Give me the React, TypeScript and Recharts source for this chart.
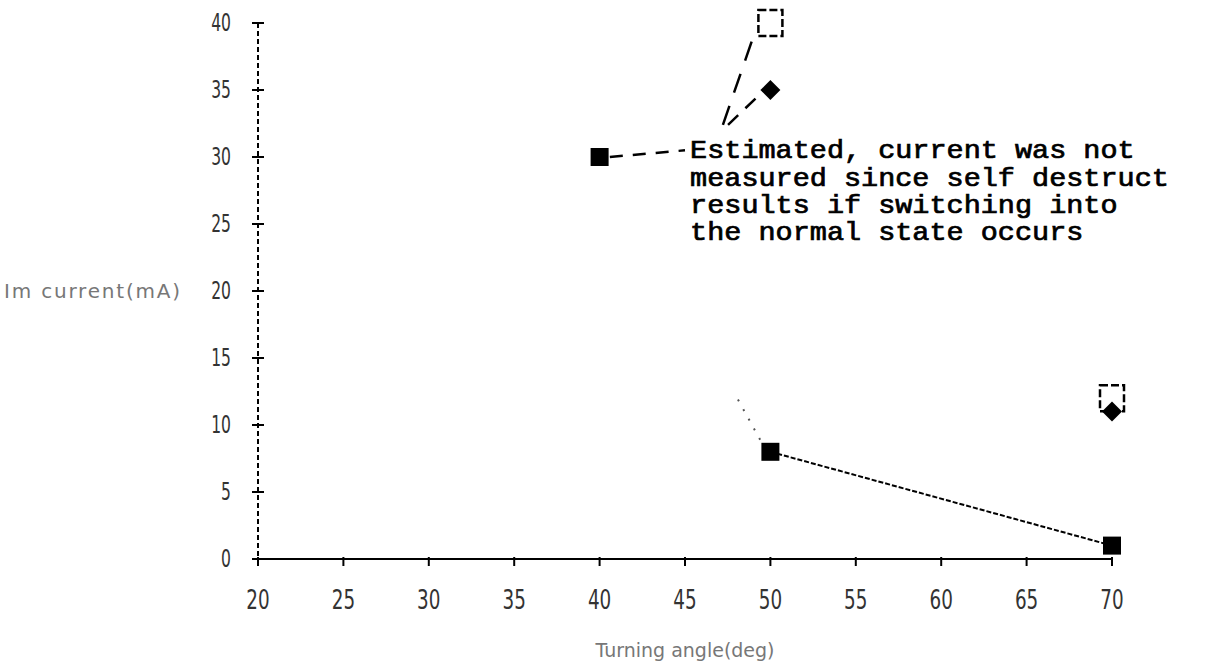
import React from 'react';
import { ScatterChart, Scatter, XAxis, YAxis, ReferenceLine, ReferenceDot } from 'recharts';

// ---- data ----
const xTicks = [20, 25, 30, 35, 40, 45, 50, 55, 60, 65, 70];
const yTicks = [0, 5, 10, 15, 20, 25, 30, 35, 40];

const measuredAngles = [50, 70];
const measuredCurrents = [8, 1];

const estimatedAngles = [40];
const estimatedCurrents = [30];

const diamondAngles = [50, 70];
const diamondCurrents = [35, 11];

const openAngles = [50, 70];
const openCurrents = [40, 12];

const noteLines = [
  'Estimated, current was not',
  'measured since self destruct',
  'results if switching into',
  'the normal state occurs',
];
const noteAnchor = { x: 45.3, y: 29.9 };
const noteLeader = [{ x: 40.6, y: 30 }, { x: 45.0, y: 30.5 }];
const noteToOpen = [{ x: 47.22, y: 32.4 }, { x: 48.98, y: 38.9 }];
const noteToDiamond = [{ x: 47.52, y: 32.4 }, { x: 49.57, y: 34.9 }];
const strayTrace = [{ x: 48.1, y: 11.9 }, { x: 49.4, y: 8.9 }];

const xLabel = 'Turning angle(deg)';
const yLabel = 'Im current(mA)';

const toPoints = (xs: number[], ys: number[]) => xs.map((x, i) => ({ x, y: ys[i] }));
const measured = toPoints(measuredAngles, measuredCurrents);
const estimated = toPoints(estimatedAngles, estimatedCurrents);
const diamonds = toPoints(diamondAngles, diamondCurrents);
const opens = toPoints(openAngles, openCurrents);

// ---- shapes ----
const FilledSquare = (p: any) => (
  <rect x={p.cx - 9} y={p.cy - 9} width={18} height={18} fill="#000" />
);
const Diamond = (p: any) => (
  <polygon
    points={`${p.cx},${p.cy - 10} ${p.cx + 10},${p.cy} ${p.cx},${p.cy + 10} ${p.cx - 10},${p.cy}`}
    fill="#000"
  />
);
const OpenSquare = (p: any) => (
  <rect
    x={p.cx - 12}
    y={p.cy - 13}
    width={24}
    height={26}
    fill="none"
    stroke="#000"
    strokeWidth={2.5}
    strokeDasharray="8 3"
  />
);

const XTick = (p: any) => (
  <g>
    <line x1={p.x} x2={p.x} y1={p.y - 2} y2={p.y + 7} stroke="#000" strokeWidth={2} />
    <g transform={`translate(${p.x},${p.y + 50})`}>
      <text
        transform="scale(0.68,1)"
        textAnchor="middle"
        fontFamily="DejaVu Sans"
        fontSize={27}
        fill="#333"
      >
        {p.payload.value}
      </text>
    </g>
  </g>
);

const YTick = (p: any) => (
  <g>
    <line x1={p.x - 6} x2={p.x + 6} y1={p.y} y2={p.y} stroke="#000" strokeWidth={2} />
    <g transform={`translate(${p.x - 27},${p.y + 8})`}>
      <text
        transform="scale(0.65,1)"
        textAnchor="end"
        fontFamily="DejaVu Sans"
        fontSize={24}
        fill="#333"
      >
        {p.payload.value}
      </text>
    </g>
  </g>
);

const NoteText = (p: any) => {
  const vb = p.viewBox || {};
  return (
    <g transform={`translate(${vb.x},${vb.y})`}>
      <text
        transform="scale(1.14,1)"
        x={0}
        y={0}
        fontFamily="Liberation Mono"
        fontSize={25}
        fill="#000"
        stroke="#000"
        strokeWidth={0.7}
      >
        {noteLines.map((line, i) => (
          <tspan key={i} x={0} dy={i === 0 ? 0 : 27.3}>
            {line}
          </tspan>
        ))}
      </text>
    </g>
  );
};

const YTitle = (p: any) => {
  const vb = p.viewBox || {};
  return (
    <text
      x={vb.x + 4}
      y={vb.y + vb.height / 2 + 7}
      fontFamily="DejaVu Sans"
      fontSize={20}
      letterSpacing={1.8}
      fill="#777"
    >
      {yLabel}
    </text>
  );
};

export default function App() {
  return (
    <div style={{ position: 'absolute', left: 0, top: 0, background: '#fff' }}>
      <ScatterChart
        width={1226}
        height={672}
        margin={{ top: 23, right: 114, bottom: 0, left: 0 }}
      >
        <XAxis
          type="number"
          dataKey="x"
          domain={[20, 70]}
          ticks={xTicks}
          height={113}
          tickSize={0}
          tickMargin={0}
          tickLine={false}
          axisLine={{ stroke: '#000', strokeWidth: 2 }}
          tick={<XTick />}
          interval={0}
          label={{
            value: xLabel,
            position: 'insideBottom',
            offset: 15,
            fill: '#777',
            fontFamily: 'DejaVu Sans',
            fontSize: 19,
          }}
        />
        <YAxis
          type="number"
          dataKey="y"
          domain={[0, 40]}
          ticks={yTicks}
          width={258}
          tickSize={0}
          tickMargin={0}
          tickLine={false}
          axisLine={{ stroke: '#000', strokeWidth: 2, strokeDasharray: '5 3' }}
          tick={<YTick />}
          interval={0}
          label={{ content: (p: any) => <YTitle {...p} /> }}
        />
        <ReferenceLine segment={strayTrace} stroke="#555" strokeWidth={2} strokeDasharray="2 9" />
        <ReferenceLine segment={noteLeader} stroke="#000" strokeWidth={2.5} strokeDasharray="13 10" />
        <ReferenceLine segment={noteToOpen} stroke="#000" strokeWidth={2.5} strokeDasharray="20 14" />
        <ReferenceLine segment={noteToDiamond} stroke="#000" strokeWidth={2.5} strokeDasharray="14 10" />
        <ReferenceDot
          x={noteAnchor.x}
          y={noteAnchor.y}
          r={0}
          fill="none"
          stroke="none"
          label={{ content: (p: any) => <NoteText {...p} /> }}
        />
        <Scatter
          data={measured}
          isAnimationActive={false}
          line={{ stroke: '#000', strokeWidth: 2, strokeDasharray: '5 2' }}
          shape={FilledSquare}
        />
        <Scatter data={estimated} isAnimationActive={false} shape={FilledSquare} />
        <Scatter data={opens} isAnimationActive={false} shape={OpenSquare} />
        <Scatter data={diamonds} isAnimationActive={false} shape={Diamond} />
      </ScatterChart>
    </div>
  );
}
